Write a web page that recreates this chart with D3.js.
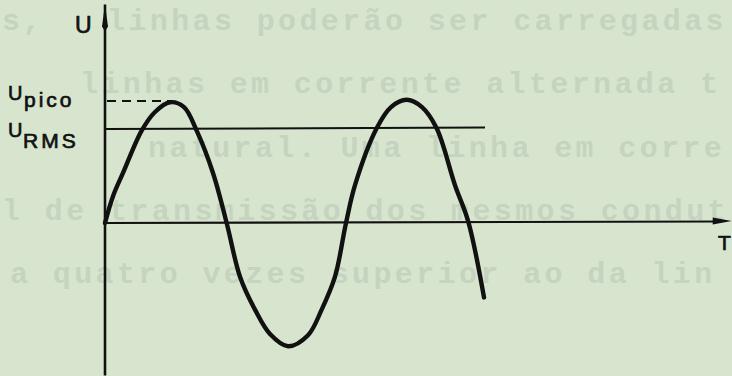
<!DOCTYPE html>
<html>
<head>
<meta charset="utf-8">
<script src="https://cdn.jsdelivr.net/npm/d3@7"></script>
<style>
    html, body { margin: 0; padding: 0; background: #d7e5cf; }
    svg { display: block; }
</style>
</head>
<body>
<div id="chart"></div>
<script>
// wave: phase in degrees, voltage relative to U pico
const phaseDeg = [0, 12, 27, 55, 75, 97.5, 118.5, 137.5, 162, 182.5, 202.5, 225, 247.5, 274.5,
    304.5, 325, 345, 361.5, 375, 407.5, 429, 452.5, 475.5, 497.5, 525, 545, 568.5];
const voltage = [0, 0.22, 0.41, 0.757, 0.91, 0.99, 0.95, 0.757, 0.41, 0, -0.44, -0.71, -0.91, -1.01,
    -0.92, -0.71, -0.44, 0, 0.31, 0.776, 0.95, 1.01, 0.95, 0.776, 0.31, 0.01, -0.61];

const uPico = 1.0;
const uRms = 0.77;
const picoPhase = 97.5;   // end of the dashed line
const rmsEndPhase = 570;  // end of the RMS line
const axisPhaseMax = 940;
const axisVoltMax = 1.79;
const axisVoltMin = -1.25;

// faint typewriter text showing through the page
const ghostLines = [
    "s,",
    "linhas poderão ser carregadas",
    "linhas em corrente alternada t",
    "natural. Uma linha em corre",
    "l de transmissão dos mesmos condut",
    "a quatro vezes superior ao da lin"
];
const ghostX = [2, 107, 80, 148, 2, 10];
const ghostY = [30, 30, 93, 157, 220, 283];

class WaveChart {
    constructor() {
        this.width = 732;
        this.height = 376;
        this.svg = null;
        this.x = null;
        this.y = null;
    }

    createSVG() {
        this.svg = d3.select("#chart")
            .append("svg")
            .attr("width", this.width)
            .attr("height", this.height);

        this.svg.append("rect")
            .attr("width", this.width)
            .attr("height", this.height)
            .attr("fill", "#d7e5cf");
    }

    init() {
        this.x = d3.scaleLinear()
            .domain([0, 360])
            .range([105, 345]);

        this.y = d3.scaleLinear()
            .domain([0, 1])
            .range([223, 101]);

        // page bleed-through
        this.svg.selectAll(".ghost")
            .data(ghostLines)
            .enter()
            .append("text")
            .attr("class", "ghost")
            .attr("x", (d, i) => ghostX[i])
            .attr("y", (d, i) => ghostY[i])
            .attr("textLength", d => d.length * 21.4 - 4)
            .attr("lengthAdjust", "spacing")
            .attr("font-family", "'Liberation Mono', 'DejaVu Sans Mono', monospace")
            .attr("font-weight", "bold")
            .attr("font-size", 30)
            .attr("fill", "#c5d4bf")
            .text(d => d);

        const ink = "#111";

        // axes
        this.svg.append("line")
            .attr("x1", this.x(0)).attr("x2", this.x(0))
            .attr("y1", this.y(axisVoltMax)).attr("y2", this.y(axisVoltMin))
            .attr("stroke", ink).attr("stroke-width", 2.6);

        this.svg.append("line")
            .attr("x1", this.x(0)).attr("x2", this.x(axisPhaseMax) - 10)
            .attr("y1", this.y(0)).attr("y2", this.y(0) - 1.5)
            .attr("stroke", ink).attr("stroke-width", 2.2);

        let tx = this.x(axisPhaseMax), ty = this.y(0) - 1.5;
        this.svg.append("path")
            .attr("d", `M${tx},${ty - 0.5} L${tx - 19},${ty - 4} L${tx - 19},${ty + 3} Z`)
            .attr("fill", ink);

        let vx = this.x(0), vy = this.y(axisVoltMax);
        this.svg.append("path")
            .attr("d", `M${vx},${vy} L${vx + 3},${vy + 22} L${vx},${vy + 27} L${vx - 3},${vy + 22} Z`)
            .attr("fill", ink);

        // U pico dashed, U RMS solid
        this.svg.append("line")
            .attr("x1", this.x(0) + 2).attr("x2", this.x(picoPhase))
            .attr("y1", this.y(uPico)).attr("y2", this.y(uPico))
            .attr("stroke", ink).attr("stroke-width", 1.8)
            .attr("stroke-dasharray", "9,6");

        this.svg.append("line")
            .attr("x1", this.x(0)).attr("x2", this.x(rmsEndPhase))
            .attr("y1", this.y(uRms)).attr("y2", this.y(uRms) - 1.5)
            .attr("stroke", ink).attr("stroke-width", 2);

        // wave
        const pts = phaseDeg.map((p, i) => [p, voltage[i]]);
        const line = d3.line()
            .x(d => this.x(d[0]))
            .y(d => this.y(d[1]))
            .curve(d3.curveCatmullRom.alpha(0.5));

        this.svg.append("path")
            .datum(pts)
            .attr("d", line)
            .attr("fill", "none")
            .attr("stroke", ink)
            .attr("stroke-width", 4.4)
            .attr("stroke-linecap", "round");

        // labels
        const font = "'Liberation Sans', Arial, sans-serif";
        const label = (x, y, size, txt, spacing) => this.svg.append("text")
            .attr("x", x).attr("y", y)
            .attr("font-family", font)
            .attr("font-size", size)
            .attr("letter-spacing", spacing || 0)
            .attr("fill", ink)
            .attr("stroke", ink)
            .attr("stroke-width", 0.7)
            .text(txt);

        label(75, 33, 23, "U");
        label(8, 100, 20, "U");
        label(24, 107, 21, "pico", 3);
        label(8, 137, 20, "U");
        label(23, 148, 21, "RMS", 3);
        label(718, 250, 21, "T");
    }
}

const chart = new WaveChart();
chart.createSVG();
chart.init();
</script>
</body>
</html>
